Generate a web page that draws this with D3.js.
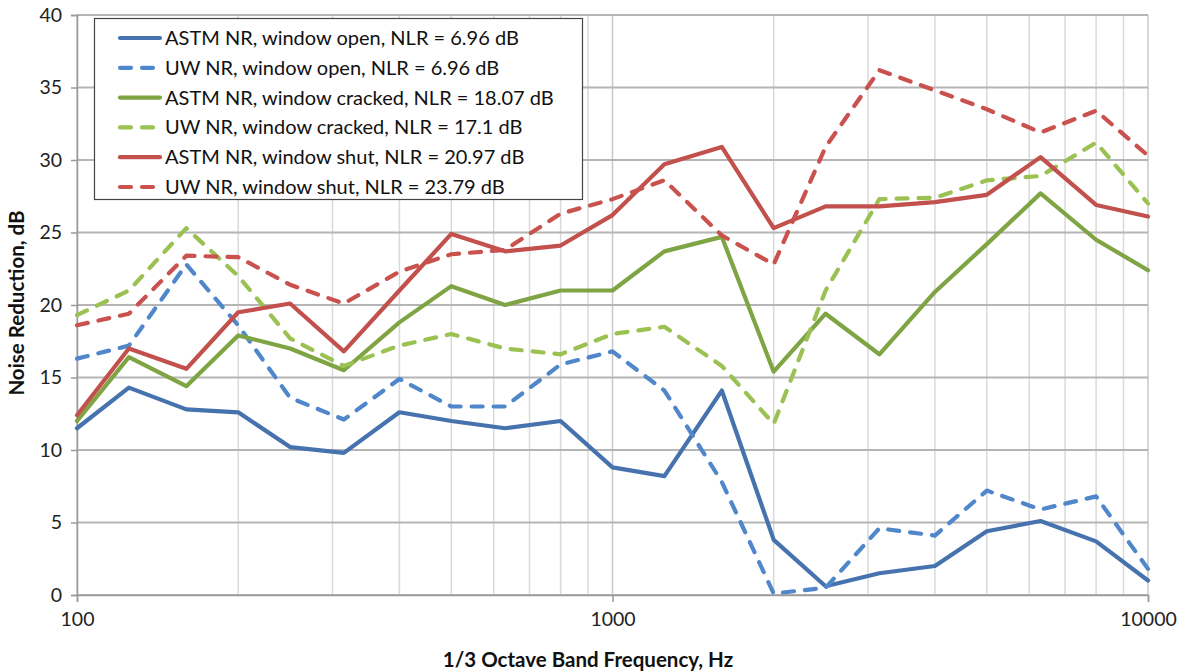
<!DOCTYPE html>
<html>
<head>
<meta charset="utf-8">
<script src="https://cdn.jsdelivr.net/npm/d3@7"></script>
<style>
  html, body { margin: 0; padding: 0; background: #fff; }
  svg { display: block; font-family: Lato, "Open Sans", sans-serif; }
</style>
</head>
<body>
<svg id="chart" width="1184" height="672"></svg>
<script>
// ---- Data ----
const frequencies = [100, 125, 160, 200, 250, 315, 400, 500, 630, 800, 1000, 1250, 1600, 2000, 2500, 3150, 4000, 5000, 6300, 8000, 10000];

const astmOpen    = [11.5, 14.3, 12.8, 12.6, 10.2, 9.8, 12.6, 12.0, 11.5, 12.0, 8.8, 8.2, 14.1, 3.8, 0.6, 1.5, 2.0, 4.4, 5.1, 3.7, 1.0];
const uwOpen      = [16.3, 17.2, 22.8, 18.6, 13.6, 12.1, 14.9, 13.0, 13.0, 15.9, 16.8, 14.1, 7.8, 0.1, 0.5, 4.6, 4.1, 7.2, 5.9, 6.8, 1.8];
const astmCracked = [12.0, 16.4, 14.4, 17.9, 17.0, 15.5, 18.8, 21.3, 20.0, 21.0, 21.0, 23.7, 24.7, 15.4, 19.4, 16.6, 20.9, 24.2, 27.7, 24.5, 22.4];
const uwCracked   = [19.3, 21.0, 25.3, 22.0, 17.7, 15.8, 17.2, 18.0, 17.0, 16.6, 18.0, 18.5, 15.8, 11.8, 21.0, 27.3, 27.4, 28.6, 28.9, 31.2, 27.0];
const astmShut    = [12.4, 17.0, 15.6, 19.5, 20.1, 16.8, 21.0, 24.9, 23.7, 24.1, 26.2, 29.7, 30.9, 25.3, 26.8, 26.8, 27.1, 27.6, 30.2, 26.9, 26.1];
const uwShut      = [18.6, 19.4, 23.4, 23.3, 21.4, 20.1, 22.3, 23.5, 23.8, 26.3, 27.3, 28.6, 24.8, 22.8, 30.9, 36.2, 34.8, 33.5, 31.9, 33.4, 30.3];

const seriesNames = [
  "ASTM NR, window open, NLR = 6.96 dB",
  "UW NR, window open, NLR = 6.96 dB",
  "ASTM NR, window cracked, NLR = 18.07 dB",
  "UW NR, window cracked, NLR = 17.1 dB",
  "ASTM NR, window shut, NLR = 20.97 dB",
  "UW NR, window shut, NLR = 23.79 dB"
];
const seriesValues = [astmOpen, uwOpen, astmCracked, uwCracked, astmShut, uwShut];
const seriesColors = ["#4673AE", "#5087CB", "#7FA443", "#9BC153", "#C2504D", "#C9524F"];
const seriesDashed = [false, true, false, true, false, true];

const xTickValues = [100, 1000, 10000];
const xMinorGrid = [200, 300, 400, 500, 600, 700, 800, 900, 2000, 3000, 4000, 5000, 6000, 7000, 8000, 9000];
const yTickValues = [0, 5, 10, 15, 20, 25, 30, 35, 40];

const xTitle = "1/3 Octave Band Frequency, Hz";
const yTitle = "Noise Reduction, dB";

// ---- Layout ----
const svg = d3.select("#chart");
const margin = { left: 77, right: 36, top: 15, bottom: 77 };
const W = 1184, H = 672;
const x = d3.scaleLog().domain([100, 10000]).range([margin.left, W - margin.right]);
const y = d3.scaleLinear().domain([0, 40]).range([H - margin.bottom, margin.top]);

// Grid
const grid = svg.append("g");
grid.selectAll(".vminor").data(xMinorGrid).join("line")
  .attr("x1", d => x(d)).attr("x2", d => x(d))
  .attr("y1", y(0)).attr("y2", y(40))
  .attr("stroke", "#d9d9d9").attr("stroke-width", 1.5);
grid.selectAll(".vmajor").data(xTickValues).join("line")
  .attr("x1", d => x(d)).attr("x2", d => x(d))
  .attr("y1", y(0)).attr("y2", y(40))
  .attr("stroke", "#c8c8c8").attr("stroke-width", 1.5);
grid.selectAll(".h").data(yTickValues).join("line")
  .attr("x1", x(100)).attr("x2", x(10000))
  .attr("y1", d => y(d)).attr("y2", d => y(d))
  .attr("stroke", "#b5b5b5").attr("stroke-width", 1.8);

// Axes
const xAxis = d3.axisBottom(x).tickValues(xTickValues).tickFormat(d3.format("d")).tickSize(7).tickPadding(10);
const gx = svg.append("g").attr("transform", `translate(0,${y(0)})`).call(xAxis);
gx.select(".domain").attr("stroke", "#9a9a9a").attr("stroke-width", 1.5);
gx.selectAll(".tick line").attr("stroke", "#9a9a9a").attr("stroke-width", 1.5);
gx.selectAll(".tick text").attr("font-size", 19.5).attr("fill", "#222").attr("font-family", "Lato, sans-serif");

const yAxis = d3.axisLeft(y).tickValues(yTickValues).tickSize(6).tickPadding(9);
const gy = svg.append("g").attr("transform", `translate(${x(100)},0)`).call(yAxis);
gy.select(".domain").attr("stroke", "#9a9a9a").attr("stroke-width", 1.5);
gy.selectAll(".tick line").attr("stroke", "#9a9a9a").attr("stroke-width", 1.5);
gy.selectAll(".tick text").attr("font-size", 19.5).attr("fill", "#222").attr("font-family", "Lato, sans-serif");

// Titles
svg.append("text").attr("x", 588).attr("y", 667)
  .attr("text-anchor", "middle").attr("font-size", 20.5).attr("font-weight", "bold").attr("fill", "#111")
  .text(xTitle);
svg.append("text").attr("transform", `translate(24,${303}) rotate(-90)`)
  .attr("text-anchor", "middle").attr("font-size", 20.5).attr("font-weight", "bold").attr("fill", "#111")
  .text(yTitle);

// Lines
const line = d3.line().x((d, i) => x(frequencies[i])).y(d => y(d));
const lines = svg.append("g");
seriesValues.forEach((vals, k) => {
  lines.append("path").datum(vals)
    .attr("d", line)
    .attr("fill", "none")
    .attr("stroke", seriesColors[k])
    .attr("stroke-width", 4.2)
    .attr("stroke-linejoin", "round")
    .attr("stroke-linecap", "round")
    .attr("stroke-dasharray", seriesDashed[k] ? "11,11" : null);
});

// Legend
const lg = svg.append("g");
lg.append("rect").attr("x", 94.5).attr("y", 18.5).attr("width", 488).attr("height", 181)
  .attr("fill", "#fff").attr("stroke", "#444").attr("stroke-width", 1.2);
seriesNames.forEach((name, k) => {
  const cy = 38 + k * 29.8;
  lg.append("line").attr("x1", 120).attr("x2", 160).attr("y1", cy).attr("y2", cy)
    .attr("stroke", seriesColors[k]).attr("stroke-width", 4.2)
    .attr("stroke-linecap", "round")
    .attr("stroke-dasharray", seriesDashed[k] ? "11,11" : null);
  lg.append("text").attr("x", 165).attr("y", cy).attr("dy", "0.35em")
    .attr("font-size", 20).attr("fill", "#111").text(name);
});
</script>
</body>
</html>
